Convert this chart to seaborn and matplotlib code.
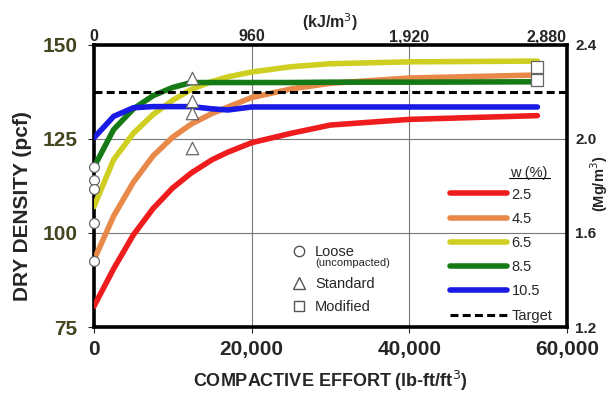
import numpy as np
import pandas as pd
import matplotlib
matplotlib.use("Agg")
import matplotlib.pyplot as plt
import seaborn as sns
from matplotlib.lines import Line2D

# compactive effort (lb-ft/ft3) where the curves were read
effort = [0, 2500, 5000, 7500, 10000, 12375, 15000, 17000, 20000, 25000, 30000, 40000, 56250]

# dry density (pcf) by moisture content w (%)
w_2_5 = [80.5, 90.5, 99.5, 106.5, 112.0, 116.0, 119.5, 121.5, 124.0, 126.5, 128.7, 130.2, 131.2]
w_4_5 = [92.8, 104.5, 113.5, 120.5, 125.5, 129.0, 131.8, 133.5, 136.0, 138.3, 139.8, 141.2, 142.0]
w_6_5 = [107.0, 119.5, 126.5, 131.5, 135.3, 138.2, 140.3, 141.5, 142.8, 144.2, 145.0, 145.5, 145.7]
w_8_5 = [117.5, 127.5, 133.0, 136.5, 138.7, 140.0, 140.0, 140.0, 140.0, 140.0, 140.1, 140.1, 140.2]
w_10_5 = [125.3, 131.0, 133.3, 133.6, 133.6, 133.6, 133.0, 132.7, 133.5, 133.5, 133.5, 133.5, 133.5]
w_labels = ["2.5", "4.5", "6.5", "8.5", "10.5"]
w_colors = ["#ee1c1c", "#e8894a", "#cfcf22", "#157a15", "#1a1ae6"]

target = 137.5

# lab compaction points
loose_x = [0, 0, 0, 0, 0]
loose_y = [117.6, 114.1, 111.6, 102.6, 92.6]
standard_x = [12375, 12375, 12375, 12375]
standard_y = [141.3, 135.0, 131.8, 122.5]
modified_x = [56250, 56250]
modified_y = [144.2, 140.6]

# top and right axis ticks
kj_ticks = ["0", "960", "1,920", "2,880"]
mg_ticks = ["1.2", "1.6", "2.0", "2.4"]

series = [w_2_5, w_4_5, w_6_5, w_8_5, w_10_5]
df = pd.concat([pd.DataFrame({"effort": effort, "density": s, "w": lab})
                for s, lab in zip(series, w_labels)])

sns.set_style("white")
plt.rcParams["font.family"] = ["Liberation Sans", "DejaVu Sans"]

LW = 4.0
DASH = (0, (2.6, 1.4))

fig = plt.figure(figsize=(6.1, 3.94), dpi=100)
ax = fig.add_axes([0.154, 0.170, 0.7755, 0.716])

sns.lineplot(data=df, x="effort", y="density", hue="w", hue_order=w_labels,
             palette=w_colors, linewidth=LW, legend=False, ax=ax, zorder=3)
ax.axhline(target, color="black", linestyle=DASH, linewidth=2.2, zorder=4)

mk = dict(facecolor="white", edgecolor="#666666", linewidth=0.9, zorder=6, clip_on=False)
sns.scatterplot(x=loose_x, y=loose_y, marker="o", s=50, ax=ax, **mk)
sns.scatterplot(x=standard_x, y=standard_y, marker="^", s=80, ax=ax, **mk)
sns.scatterplot(x=modified_x, y=modified_y, marker="s", s=65, ax=ax, **mk)

ax.set_xlim(0, 60000)
ax.set_ylim(75, 150)
ax.set_xticks([0, 20000, 40000, 60000])
ax.set_xticklabels(["0", "20,000", "40,000", "60,000"])
ax.set_yticks([75, 100, 125, 150])
ax.grid(True, color="#777777", linewidth=0.8)
for s in ax.spines.values():
    s.set_linewidth(2.6)
    s.set_color("black")
ax.tick_params(axis="x", length=4, width=0.8, labelsize=15, pad=5)
ax.tick_params(axis="y", length=4, width=0.8, labelsize=15, labelcolor="#45451f", pad=8)
for t in ax.get_xticklabels() + ax.get_yticklabels():
    t.set_fontweight("bold")
ax.set_xlabel("COMPACTIVE EFFORT (lb-ft/ft$^3$)", fontsize=13, fontweight="bold")
ax.xaxis.set_label_coords(0.5, -0.15)
ax.set_ylabel("DRY DENSITY (pcf)", fontsize=15, fontweight="bold", va="center")
ax.yaxis.set_label_coords(-0.152, 0.43)

# top axis in kJ/m3
top = ax.twiny()
top.set_xlim(ax.get_xlim())
top.set_xticks([0, 20000, 40000, 60000])
top.set_xticklabels(kj_ticks, fontsize=11.5, fontweight="bold")
top.get_xticklabels()[-1].set_ha("right")
top.tick_params(axis="x", length=0, pad=0.5)
top.set_xlabel("(kJ/m$^3$)", fontsize=11.5, fontweight="bold", labelpad=1)
for s in top.spines.values():
    s.set_visible(False)

# right axis in Mg/m3
right = ax.twinx()
right.set_ylim(1.2, 2.4)
right.set_yticks([1.2, 1.6, 2.0, 2.4])
right.set_yticklabels(mg_ticks, fontsize=11, fontweight="bold")
right.tick_params(axis="y", length=0, pad=6)
for s in right.spines.values():
    s.set_visible(False)
fig.text(0.982, 0.533, "(Mg/m$^3$)", rotation=90, fontsize=10.5, fontweight="bold",
         ha="center", va="center")

# moisture legend
handles = [Line2D([], [], color=c, linewidth=LW) for c in w_colors]
handles.append(Line2D([], [], color="black", linestyle=DASH, linewidth=2.2))
leg = ax.legend(handles, w_labels + ["Target"], loc="center left",
                bbox_to_anchor=(0.753, 0.255), frameon=False, fontsize=10.5,
                borderpad=0, borderaxespad=0, handlelength=3.9,
                handletextpad=0.3, labelspacing=0.7)
ax.add_artist(leg)
ax.text(0.920, 0.545, "w (%)", transform=ax.transAxes, fontsize=10.5,
        ha="center", va="center")
ax.plot([0.877, 0.964], [0.527, 0.527], transform=ax.transAxes, color="black",
        linewidth=0.8, clip_on=False)

# compaction legend
def key(m, size):
    return Line2D([], [], marker=m, color="none", markerfacecolor="white",
                  markeredgecolor="#555555", markersize=size)

leg_a = ax.legend([key("o", 7.5)], ["Loose"], loc="center left",
                  bbox_to_anchor=(0.418, 0.266), frameon=False, fontsize=10.5,
                  borderpad=0, borderaxespad=0, handlelength=1.0, handletextpad=0.6)
ax.add_artist(leg_a)
ax.annotate("(uncompacted)", xy=(0, 0), xycoords=leg_a.get_texts()[0],
            xytext=(0, 1), textcoords="offset points", fontsize=8, va="top",
            zorder=7)
ax.legend([key("^", 9), key("s", 7)], ["Standard", "Modified"], loc="center left",
          bbox_to_anchor=(0.418, 0.112), frameon=False, fontsize=10.5,
          borderpad=0, borderaxespad=0, handlelength=1.0, handletextpad=0.6,
          labelspacing=0.6)

fig.savefig("out.png", dpi=100)
